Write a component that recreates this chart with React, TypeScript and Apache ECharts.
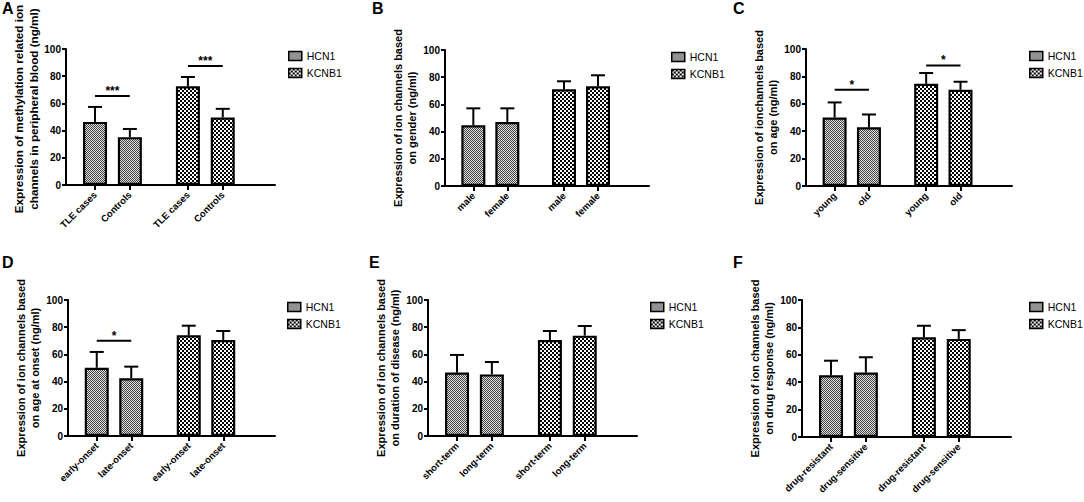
import React, { useEffect, useRef } from "react";
import * as echarts from "echarts";

// ---------- data ----------
const seriesNames = ["HCN1", "KCNB1"];
const panelLetters = ["A", "B", "C", "D", "E", "F"];
const yTitles = [
  "Expression of methylation related ion\nchannels in peripheral blood (ng/ml)",
  "Expression of ion channels based\non gender (ng/ml)",
  "Expression of ionchannels based\non age (ng/ml)",
  "Expression of ion channels based\non age at onset (ng/ml)",
  "Expression of ion channels based\non duration of disease (ng/ml)",
  "Expression of ion channels based\non drug response (ng/ml)",
];
const yTickValues = [0, 20, 40, 60, 80, 100];

const categoriesA = ["TLE cases", "Controls"];
const categoriesB = ["male", "female"];
const categoriesC = ["young", "old"];
const categoriesD = ["early-onset", "late-onset"];
const categoriesE = ["short-term", "long-term"];
const categoriesF = ["drug-resistant", "drug-sensitive"];

// means and mean+error (top of error bar)
const hcn1MeanA = [46.4, 35.2];
const hcn1TopA = [57.4, 41.2];
const kcnb1MeanA = [72.6, 49.6];
const kcnb1TopA = [79.4, 56];

const hcn1MeanB = [44.6, 47.1];
const hcn1TopB = [57.1, 57.1];
const kcnb1MeanB = [71.1, 73.3];
const kcnb1TopB = [77, 81.4];

const hcn1MeanC = [50, 42.8];
const hcn1TopC = [61, 52.2];
const kcnb1MeanC = [74.6, 70.2];
const kcnb1TopC = [82.5, 76.1];

const hcn1MeanD = [50.2, 42.4];
const hcn1TopD = [61.8, 51];
const kcnb1MeanD = [74, 70.6];
const kcnb1TopD = [81.1, 77.2];

const hcn1MeanE = [46.6, 45.3];
const hcn1TopE = [59.6, 54.4];
const kcnb1MeanE = [70.6, 73.8];
const kcnb1TopE = [77.2, 80.9];

const hcn1MeanF = [45, 47];
const hcn1TopF = [55.7, 58.2];
const kcnb1MeanF = [72.8, 71.6];
const kcnb1TopF = [81.2, 78];

// significance brackets: [group (0 HCN1, 1 KCNB1), level, label]
const sigA = [[0, 65.4, "***"], [1, 87.5, "***"]];
const sigB: any[] = [];
const sigC = [[0, 70.2, "*"], [1, 88, "*"]];
const sigD = [[0, 70.1, "*"]];
const sigE: any[] = [];
const sigF: any[] = [];

const panels = [
  { cats: categoriesA, hm: hcn1MeanA, ht: hcn1TopA, km: kcnb1MeanA, kt: kcnb1TopA, sig: sigA },
  { cats: categoriesB, hm: hcn1MeanB, ht: hcn1TopB, km: kcnb1MeanB, kt: kcnb1TopB, sig: sigB },
  { cats: categoriesC, hm: hcn1MeanC, ht: hcn1TopC, km: kcnb1MeanC, kt: kcnb1TopC, sig: sigC },
  { cats: categoriesD, hm: hcn1MeanD, ht: hcn1TopD, km: kcnb1MeanD, kt: kcnb1TopD, sig: sigD },
  { cats: categoriesE, hm: hcn1MeanE, ht: hcn1TopE, km: kcnb1MeanE, kt: kcnb1TopE, sig: sigE },
  { cats: categoriesF, hm: hcn1MeanF, ht: hcn1TopF, km: kcnb1MeanF, kt: kcnb1TopF, sig: sigF },
];

// ---------- layout ----------
const FONT = "'Liberation Sans', Arial, Helvetica, sans-serif";
const SLOT_COUNT = 18;
const barSlots = [2, 5, 10, 13]; // HCN1 x2, KCNB1 x2
const grids = [
  { left: 66, top: 49, width: 209, height: 136 },
  { left: 445, top: 50, width: 204, height: 136 },
  { left: 806, top: 49, width: 206, height: 137 },
  { left: 68, top: 300, width: 207, height: 136 },
  { left: 428, top: 300, width: 209, height: 136 },
  { left: 802, top: 300, width: 209, height: 137 },
];
const nameGaps = [23, 26, 18, 22, 24, 20];
const nameFontSizes = [11.7, 11, 11, 11, 11, 11];
const nameShift = [16, 0, 0, 0, 0, 0];
const legendPos: any[] = [
  { left: 288, top: 50 },
  { left: 671, top: 51 },
  { left: 1029, top: 50 },
  { left: 287, top: 301 },
  { left: 650, top: 301 },
  { left: 1029, top: 301 },
];
const letterPos = [
  { x: 2, y: 0 },
  { x: 372, y: 0 },
  { x: 733, y: 0 },
  { x: 2, y: 254 },
  { x: 369, y: 254 },
  { x: 733, y: 254 },
];

function makePattern(kind: "fine" | "checker") {
  const c = document.createElement("canvas");
  if (kind === "fine") {
    c.width = 2;
    c.height = 2;
    const ctx = c.getContext("2d")!;
    ctx.fillStyle = "#e0e0e0";
    ctx.fillRect(0, 0, 2, 2);
    ctx.fillStyle = "#444444";
    ctx.fillRect(0, 0, 1, 1);
    ctx.fillRect(1, 1, 1, 1);
  } else {
    c.width = 4;
    c.height = 4;
    const ctx = c.getContext("2d")!;
    ctx.fillStyle = "#ffffff";
    ctx.fillRect(0, 0, 4, 4);
    ctx.fillStyle = "#000000";
    ctx.fillRect(0, 0, 2, 2);
    ctx.fillRect(2, 2, 2, 2);
  }
  return c;
}

export default function App() {
  const ref = useRef<HTMLDivElement>(null);
  useEffect(() => {
    document.body.style.margin = "0";
    if (!ref.current) return;
    const chart = echarts.init(ref.current, undefined, { renderer: "svg" });
    const fills = [
      { image: makePattern("fine"), repeat: "repeat" },
      { image: makePattern("checker"), repeat: "repeat" },
    ];

    const xAxis: any[] = [];
    const yAxis: any[] = [];
    const series: any[] = [];
    const legend: any[] = [];
    const graphic: any[] = [];

    panels.forEach((p, i) => {
      const slotLabels: string[] = Array.from({ length: SLOT_COUNT }, () => "");
      barSlots.forEach((s, k) => (slotLabels[s] = p.cats[k % 2]));
      const slotKeys = Array.from({ length: SLOT_COUNT }, (_, k) => "s" + k);
      const show = (idx: number) => barSlots.indexOf(idx) >= 0;

      xAxis.push({
        gridIndex: i,
        type: "category",
        data: slotKeys,
        boundaryGap: true,
        axisLine: { show: true, lineStyle: { color: "#000", width: 2 } },
        axisTick: {
          show: true,
          alignWithLabel: true,
          interval: (idx: number) => show(idx),
          length: 5,
          lineStyle: { color: "#000", width: 2 },
        },
        axisLabel: {
          interval: (idx: number) => show(idx),
          formatter: (_v: string, idx: number) => slotLabels[idx],
          rotate: 45,
          margin: 8,
          fontSize: 9.5,
          fontWeight: "bold",
          color: "#000",
          fontFamily: FONT,
        },
        splitLine: { show: false },
      });
      yAxis.push({
        gridIndex: i,
        type: "value",
        min: yTickValues[0],
        max: yTickValues[yTickValues.length - 1],
        interval: yTickValues[1] - yTickValues[0],
        axisLine: { show: true, lineStyle: { color: "#000", width: 2 } },
        axisTick: { show: true, length: 4, lineStyle: { color: "#000", width: 2 } },
        axisLabel: { margin: 5, fontSize: 10, fontWeight: "bold", color: "#000", fontFamily: FONT },
        splitLine: { show: false },
        name: yTitles[i],
        nameLocation: "middle",
        nameGap: nameGaps[i],
        nameTextStyle: {
          fontSize: nameFontSizes[i],
          fontWeight: "bold",
          color: "#000",
          lineHeight: nameFontSizes[i] + 3,
          fontFamily: FONT,
          padding: [0, 0, 0, nameShift[i]],
        },
      });

      const groups = [
        { mean: p.hm, top: p.ht, slots: [barSlots[0], barSlots[1]] },
        { mean: p.km, top: p.kt, slots: [barSlots[2], barSlots[3]] },
      ];
      groups.forEach((g, gi) => {
        const arr: any[] = Array.from({ length: SLOT_COUNT }, () => null);
        g.slots.forEach((s, k) => (arr[s] = g.mean[k]));
        series.push({
          type: "bar",
          name: seriesNames[gi],
          xAxisIndex: i,
          yAxisIndex: i,
          data: arr,
          barWidth: 24,
          barGap: "-100%",
          itemStyle: { color: fills[gi], borderColor: "#000", borderWidth: 2.2 },
          emphasis: { disabled: true },
          z: 2,
        });
      });

      const errData: any[] = [];
      groups.forEach((g) => g.slots.forEach((s, k) => errData.push([s, g.mean[k], g.top[k]])));
      series.push({
        type: "custom",
        xAxisIndex: i,
        yAxisIndex: i,
        data: errData,
        encode: { x: 0, y: [1, 2] },
        z: 3,
        silent: true,
        renderItem: (_params: any, api: any) => {
          const s = api.value(0);
          const p0 = api.coord([s, api.value(1)]);
          const p1 = api.coord([s, api.value(2)]);
          return {
            type: "group",
            children: [
              { type: "line", shape: { x1: p0[0], y1: p0[1], x2: p1[0], y2: p1[1] }, style: { stroke: "#000", lineWidth: 2 } },
              { type: "line", shape: { x1: p1[0] - 7, y1: p1[1], x2: p1[0] + 7, y2: p1[1] }, style: { stroke: "#000", lineWidth: 2 } },
            ],
          };
        },
      });

      if (p.sig.length) {
        const sigData = p.sig.map((sg: any) => {
          const slots = sg[0] === 0 ? [barSlots[0], barSlots[1]] : [barSlots[2], barSlots[3]];
          return [slots[0], slots[1], sg[1]];
        });
        const sigLabels = p.sig.map((sg: any) => sg[2]);
        series.push({
          type: "custom",
          xAxisIndex: i,
          yAxisIndex: i,
          data: sigData,
          encode: { x: [0, 1], y: 2 },
          z: 4,
          silent: true,
          renderItem: (params: any, api: any) => {
            const a = api.coord([api.value(0), api.value(2)]);
            const b = api.coord([api.value(1), api.value(2)]);
            return {
              type: "group",
              children: [
                { type: "line", shape: { x1: a[0], y1: a[1], x2: b[0], y2: b[1] }, style: { stroke: "#000", lineWidth: 2 } },
                {
                  type: "text",
                  x: (a[0] + b[0]) / 2,
                  y: a[1] + 1,
                  style: {
                    text: sigLabels[params.dataIndex],
                    align: "center",
                    verticalAlign: "bottom",
                    fontSize: 12,
                    fontWeight: "bold",
                    fill: "#000",
                    fontFamily: FONT,
                  },
                },
              ],
            };
          },
        });
      }

      legend.push({
        ...legendPos[i],
        orient: "vertical",
        icon: "rect",
        padding: 0,
        itemWidth: 13,
        itemHeight: 9,
        itemGap: 5,
        selectedMode: false,
        data: seriesNames,
        itemStyle: { borderColor: "#000", borderWidth: 1.5 },
        textStyle: { fontSize: 10.5, color: "#000", fontFamily: FONT, lineHeight: 12 },
      });

      graphic.push({
        type: "text",
        x: letterPos[i].x,
        y: letterPos[i].y,
        style: {
          text: panelLetters[i],
          fontSize: 16,
          fontWeight: "bold",
          fill: "#000",
          fontFamily: FONT,
          verticalAlign: "top",
          align: "left",
        },
      });
    });

    chart.setOption({
      animation: false,
      backgroundColor: "#fff",
      grid: grids.map((g) => ({ ...g, containLabel: false, outerBoundsMode: "none" })),
      xAxis,
      yAxis,
      series,
      legend,
      graphic,
      tooltip: { show: false },
    });
    return () => chart.dispose();
  }, []);

  return (
    <div style={{ position: "absolute", left: 0, top: 0, width: 1084, height: 502, background: "#fff" }}>
      <div ref={ref} style={{ width: 1084, height: 502 }} />
    </div>
  );
}
